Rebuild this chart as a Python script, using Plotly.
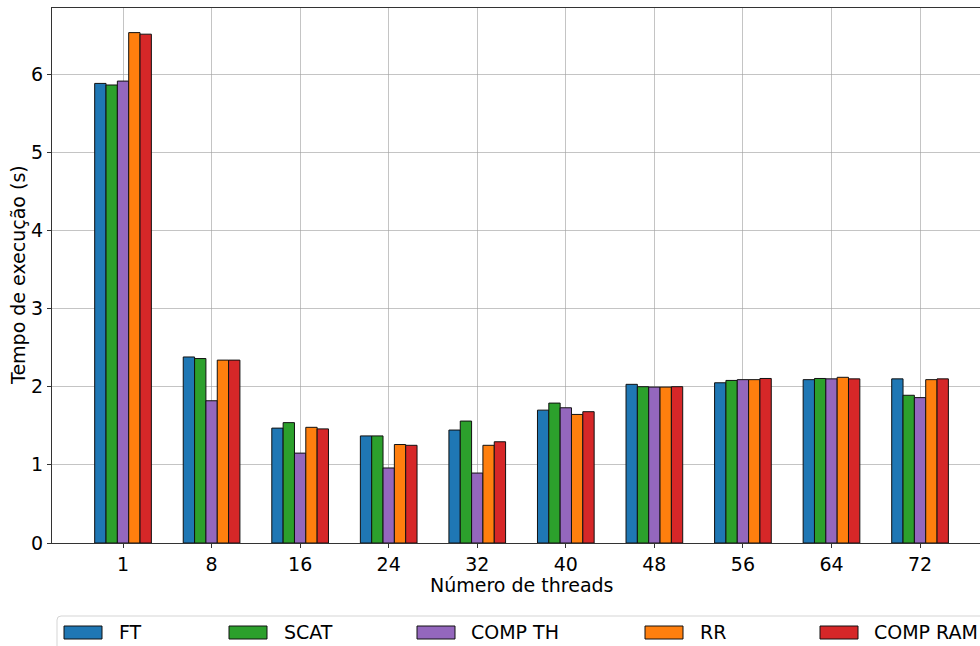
import plotly.graph_objects as go

threads = ["1", "8", "16", "24", "32", "40", "48", "56", "64", "72"]
series_names = ["FT", "SCAT", "COMP TH", "RR", "COMP RAM"]
ft       = [5.88, 2.38, 1.47, 1.37, 1.445, 1.70, 2.03, 2.05, 2.09, 2.10]
scat     = [5.86, 2.36, 1.54, 1.37, 1.56, 1.79, 2.00, 2.08, 2.105, 1.89]
comp_th  = [5.91, 1.82, 1.15, 0.96, 0.895, 1.73, 1.995, 2.09, 2.10, 1.86]
rr       = [6.53, 2.34, 1.48, 1.26, 1.25, 1.645, 1.995, 2.09, 2.12, 2.09]
comp_ram = [6.51, 2.34, 1.46, 1.25, 1.295, 1.68, 2.00, 2.105, 2.10, 2.10]
series_values = [ft, scat, comp_th, rr, comp_ram]
colors = ["#1f77b4", "#2ca02c", "#9467bd", "#ff7f0e", "#d62728"]

W, H = 980, 646
ML, MR, MT, MB = 52, 0, 8, 103
PW = W - ML - MR
PH = H - MT - MB
bar_w = 0.128

def px_x(p):
    return (p - ML) / PW

def px_y(p):
    return (H - MB - p) / PH

fig = go.Figure()
for k, (name, vals, col) in enumerate(zip(series_names, series_values, colors)):
    xs = [i + (k - 2) * bar_w for i in range(len(threads))]
    fig.add_trace(go.Bar(
        x=xs, y=vals, width=bar_w, name=name,
        marker=dict(color=col, line=dict(color="#111111", width=1)),
        showlegend=False,
    ))

font = dict(family="DejaVu Sans", size=19, color="black")
grid = "rgba(160,160,160,0.62)"

fig.update_layout(
    width=W, height=H,
    margin=dict(l=ML, r=MR, t=MT, b=MB),
    paper_bgcolor="white", plot_bgcolor="white",
    barmode="overlay",
    font=font,
    showlegend=False,
)
fig.update_xaxes(
    range=[-0.802, 9.677],
    tickmode="array", tickvals=list(range(len(threads))), ticktext=threads,
    ticks="outside", ticklen=4, tickcolor="#333333",
    showgrid=True, gridcolor=grid, gridwidth=1,
    showline=True, linecolor="#333333", linewidth=1, mirror=True,
    zeroline=False, layer="above traces", tickfont=font,
)
fig.update_yaxes(
    range=[0, 6.845],
    tickmode="array", tickvals=[0, 1, 2, 3, 4, 5, 6],
    ticks="outside", ticklen=4, tickcolor="#333333",
    showgrid=True, gridcolor=grid, gridwidth=1,
    showline=True, linecolor="#333333", linewidth=1,
    zeroline=False, layer="above traces", tickfont=font,
)

annotations = [
    dict(text="Número de threads", xref="paper", yref="paper",
         x=px_x(521), y=px_y(585), xanchor="center", yanchor="middle",
         showarrow=False, font=font),
    dict(text="Tempo de execução (s)", xref="paper", yref="paper",
         x=px_x(18), y=px_y(275), xanchor="center", yanchor="middle",
         textangle=-90, showarrow=False, font=font),
]

shapes = []
# legend frame (rounded top-left corner, extends past the page edges)
x0, y0 = px_x(57), px_y(616)
x1, y1 = px_x(1010), px_y(660)
rx, ry = 4 / PW, 4 / PH
path = (f"M {x0},{y1} L {x0},{y0 - ry} Q {x0},{y0} {x0 + rx},{y0} "
        f"L {x1},{y0} L {x1},{y1} Z")
shapes.append(dict(type="path", path=path, xref="paper", yref="paper",
                   line=dict(color="#d5d5d5", width=1), fillcolor="rgba(255,255,255,0.8)"))

patch_x = [64, 229, 417, 645, 820]
text_x = [117, 282, 469, 698, 872]
for name, col, pxp, tx in zip(series_names, colors, patch_x, text_x):
    shapes.append(dict(type="rect", xref="paper", yref="paper",
                       x0=px_x(pxp), x1=px_x(pxp + 38),
                       y0=px_y(626), y1=px_y(639),
                       fillcolor=col, line=dict(color="#111111", width=1)))
    annotations.append(dict(text=name, xref="paper", yref="paper",
                            x=px_x(tx), y=px_y(632), xanchor="left", yanchor="middle",
                            showarrow=False, font=font))

fig.update_layout(shapes=shapes, annotations=annotations)
fig.write_html("out.html")
